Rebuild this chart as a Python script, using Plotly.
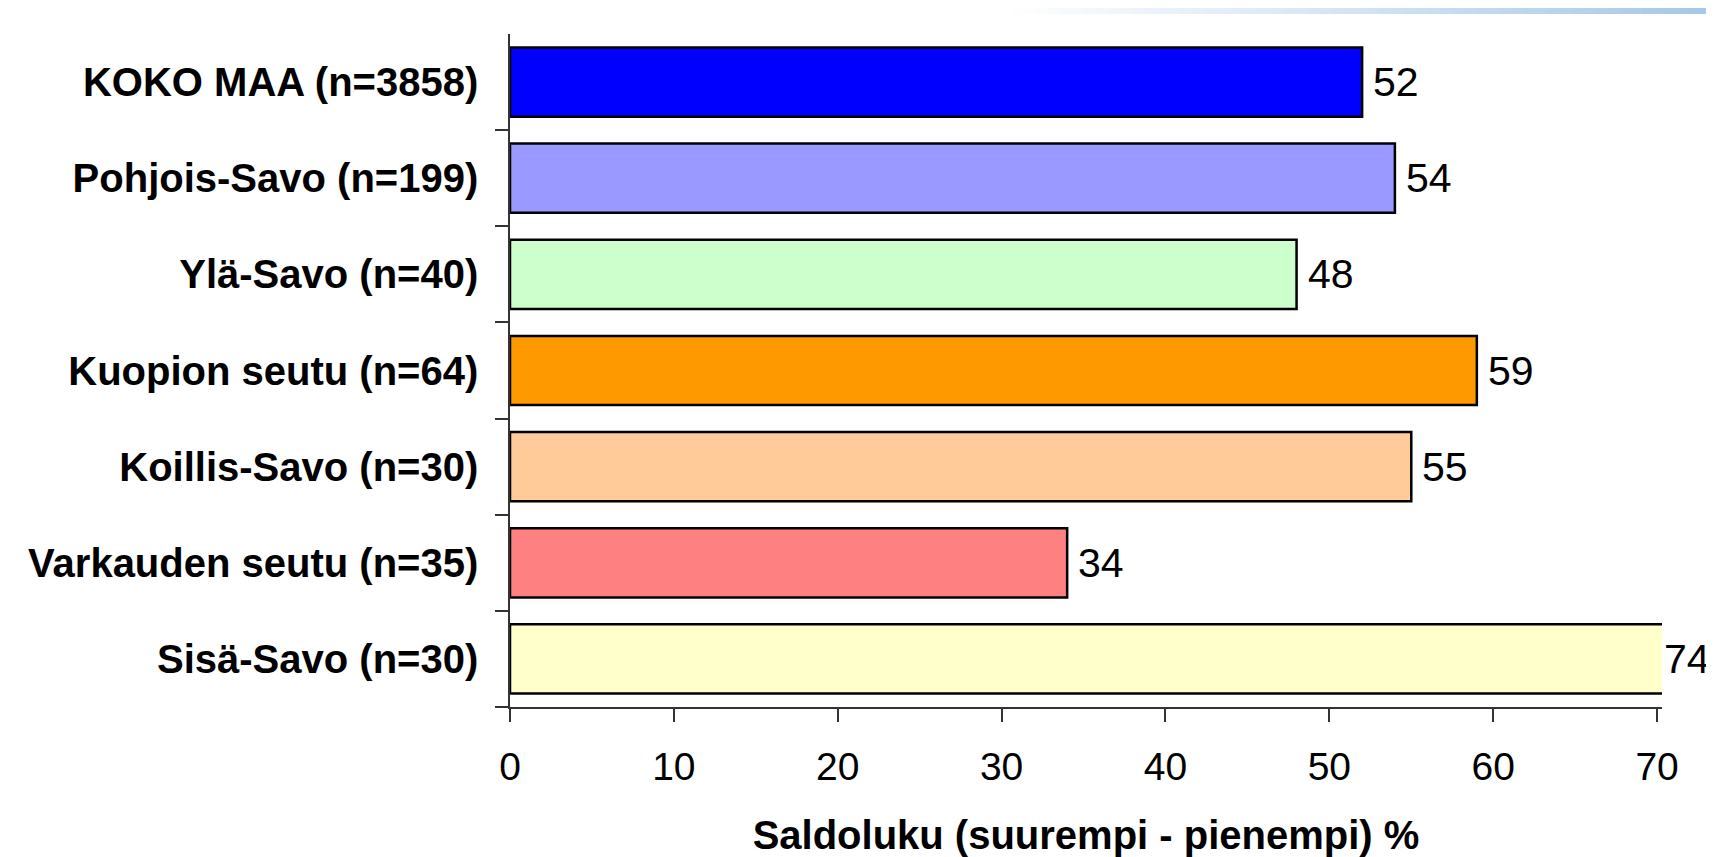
import plotly.graph_objects as go

# data
regions = ['KOKO MAA (n=3858)', 'Pohjois-Savo (n=199)', 'Ylä-Savo (n=40)',
           'Kuopion seutu (n=64)', 'Koillis-Savo (n=30)',
           'Varkauden seutu (n=35)', 'Sisä-Savo (n=30)']
saldo = [52, 54, 48, 59, 55, 34, 74]
bar_colors = ['#0000FF', '#9999FF', '#CCFFCC', '#FF9900', '#FFCC99',
              '#FF8080', '#FFFFCC']
x_ticks = [0, 10, 20, 30, 40, 50, 60, 70]

X_MAX = 70.3

# page body has an 8px margin, so the margins are shifted to compensate
M_L, M_R, M_T, M_B = 502, 60, 26, 158
PLOT_W = 1714 - M_L - M_R
PLOT_H = 857 - M_T - M_B

fig = go.Figure()

fig.add_trace(go.Bar(
    y=regions,
    x=saldo,
    orientation='h',
    marker=dict(color=bar_colors, line=dict(color='black', width=2.5)),
    width=0.72,
    showlegend=False,
    hoverinfo='x+y',
))

# value labels, kept inside the visible range like the original
for r, v in zip(regions, saldo):
    fig.add_annotation(
        x=min(v, X_MAX), y=r, text=str(v),
        xanchor='left', yanchor='middle',
        xshift=9 if v <= X_MAX else 0, showarrow=False,
        font=dict(family='Liberation Sans, Arial', size=41, color='black'),
    )

# thin gradient band across the top right
shapes = []
n_steps = 60
x0 = (992 - M_L) / PLOT_W
x1 = (1706 - M_L) / PLOT_W
for i in range(n_steps):
    t = i / (n_steps - 1)
    cr = int(255 + (166 - 255) * t)
    cg = int(255 + (200 - 255) * t)
    cb = int(255 + (234 - 255) * t)
    shapes.append(dict(
        type='rect', xref='paper', yref='paper', layer='below',
        x0=x0 + (x1 - x0) * i / n_steps,
        x1=x0 + (x1 - x0) * (i + 1) / n_steps + 0.002,
        y0=1.0 + (M_T - 6) / PLOT_H, y1=1.0 + M_T / PLOT_H,
        fillcolor=f'rgb({cr},{cg},{cb})', line=dict(width=0),
    ))

fig.update_layout(
    width=1714,
    height=857,
    margin=dict(l=M_L, r=M_R, t=M_T, b=M_B, autoexpand=False),
    paper_bgcolor='white',
    plot_bgcolor='white',
    font=dict(family='Liberation Sans, Arial', color='black'),
    bargap=0.28,
    shapes=shapes,
    xaxis=dict(
        range=[0, X_MAX],
        tickvals=x_ticks,
        ticks='outside',
        ticklen=13,
        tickwidth=1.5,
        tickcolor='#333333',
        showline=True,
        linecolor='#333333',
        linewidth=1.5,
        showgrid=False,
        zeroline=False,
        automargin=False,
        tickfont=dict(size=39, family='Liberation Sans, Arial'),
        ticklabelstandoff=11,
        title=dict(text='<b>Saldoluku (suurempi - pienempi) %</b>',
                   font=dict(size=40, family='Liberation Sans, Arial'),
                   standoff=34),
    ),
    yaxis=dict(
        categoryorder='array',
        categoryarray=regions[::-1],
        tickmode='array',
        tickvals=regions,
        ticktext=[f'<b>{r}</b>' for r in regions],
        tickson='boundaries',
        ticks='outside',
        ticklen=13,
        tickwidth=1.5,
        tickcolor='#333333',
        showline=True,
        linecolor='#333333',
        linewidth=1.5,
        showgrid=False,
        zeroline=False,
        automargin=False,
        tickfont=dict(size=40, family='Liberation Sans, Arial'),
        ticklabelstandoff=22,
    ),
)

fig.write_html('out.html')
